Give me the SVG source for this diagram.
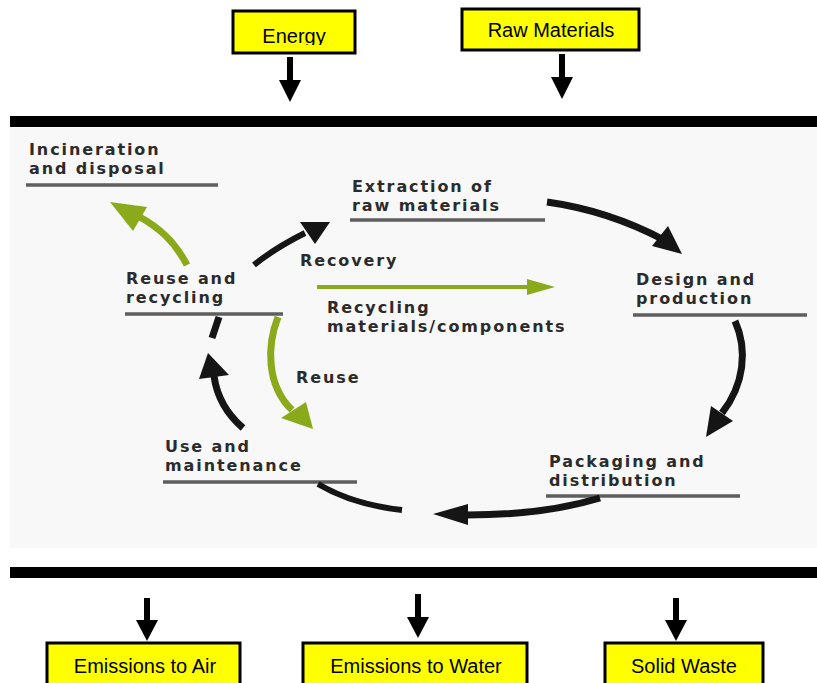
<svg xmlns="http://www.w3.org/2000/svg" width="817" height="683" viewBox="0 0 817 683">
<style>
.box{fill:#ffff00;stroke:#000;stroke-width:3}
.bt{font-family:"Liberation Sans",Arial,sans-serif;font-size:20px;fill:#000;text-anchor:middle}
.lb{font-family:"DejaVu Sans","Liberation Sans",sans-serif;font-weight:bold;font-size:16px;fill:#2b2b2b;letter-spacing:1.9px}
.ul{stroke:#5e5e5e;stroke-width:3.5}
.bk{fill:none;stroke:#151515;stroke-width:7;stroke-linecap:butt}
.gr{fill:none;stroke:#8aaa1c;stroke-width:7;stroke-linecap:butt}
.hk{fill:#151515}
.hg{fill:#8aaa1c}
.ar{fill:#000}
</style>
<defs>
<clipPath id="clipE"><rect x="232" y="10" width="124" height="35"/></clipPath>
</defs>
<rect x="0" y="0" width="817" height="683" fill="#fff"/>
<rect x="10" y="128" width="807" height="420" fill="#f8f8f8"/>
<rect x="10" y="116" width="807" height="11" fill="#000"/>
<rect x="10" y="567" width="807" height="11" fill="#000"/>

<g id="energy">
<rect class="box" x="233" y="11" width="122" height="42"/>
<text class="bt" x="294" y="43" clip-path="url(#clipE)">Energy</text>
</g>
<g id="raw-materials">
<rect class="box" x="462" y="9" width="177" height="41"/>
<text class="bt" x="551" y="37">Raw Materials</text>
</g>
<g id="emissions-air">
<rect class="box" x="47" y="643" width="193" height="45"/>
<text class="bt" x="145" y="673">Emissions to Air</text>
</g>
<g id="emissions-water">
<rect class="box" x="303" y="643" width="224" height="45"/>
<text class="bt" x="416" y="673">Emissions to Water</text>
</g>
<g id="solid-waste">
<rect class="box" x="605" y="643" width="158" height="45"/>
<text class="bt" x="684" y="673">Solid Waste</text>
</g>

<g id="incineration">
<text class="lb" x="29" y="155">Incineration</text>
<text class="lb" x="29" y="174">and disposal</text>
<line class="ul" x1="26" y1="185" x2="218" y2="185"/>
</g>
<g id="extraction">
<text class="lb" x="352" y="192">Extraction of</text>
<text class="lb" x="352" y="211">raw materials</text>
<line class="ul" x1="350" y1="220" x2="545" y2="220"/>
</g>
<g id="design">
<text class="lb" x="636" y="285">Design and</text>
<text class="lb" x="636" y="304">production</text>
<line class="ul" x1="633" y1="315" x2="807" y2="315"/>
</g>
<g id="packaging">
<text class="lb" x="549" y="467">Packaging and</text>
<text class="lb" x="549" y="486">distribution</text>
<line class="ul" x1="546" y1="496" x2="740" y2="496"/>
</g>
<g id="use">
<text class="lb" x="165" y="452">Use and</text>
<text class="lb" x="165" y="471">maintenance</text>
<line class="ul" x1="163" y1="482" x2="357" y2="482"/>
</g>
<g id="reuse-recycling">
<text class="lb" x="126" y="284">Reuse and</text>
<text class="lb" x="126" y="303">recycling</text>
<line class="ul" x1="125" y1="314" x2="283" y2="314"/>
</g>

<g id="connectors">
<rect class="ar" x="287" y="57" width="6" height="24"/><polygon class="ar" points="279,80 301,80 290,102"/>
<rect class="ar" x="559" y="54" width="6" height="24"/><polygon class="ar" points="551,77 573,77 562,99"/>
<rect class="ar" x="144" y="598" width="6" height="23"/><polygon class="ar" points="136,620 158,620 147,641"/>
<rect class="ar" x="415" y="594" width="6" height="23"/><polygon class="ar" points="407,617 429,617 418,638"/>
<rect class="ar" x="673" y="598" width="6" height="23"/><polygon class="ar" points="665,620 687,620 676,641"/>

<path class="gr" d="M187,265 C175,242 160,228 138,216"/>
<polygon class="hg" points="110,202 147,207 133,231"/>
<path class="bk" d="M254,265 C270,252 285,243 305,233" style="stroke-width:6"/>
<polygon class="hk" points="330,222 300,222 315,244"/>
<path class="bk" d="M547,202 C590,208 630,222 664,240"/>
<polygon class="hk" points="682,254 652,246 668,226"/>
<path class="bk" d="M735,321 C748,350 744,385 722,413"/>
<polygon class="hk" points="706,437 733,421 711,406"/>
<path class="bk" d="M600,498 C560,510 510,515 467,515"/>
<polygon class="hk" points="433,514 468,504 468,525"/>
<path class="bk" d="M318,484 C345,500 375,507 402,510" style="stroke-width:6"/>
<path class="bk" d="M243,428 C228,415 217,398 214,376"/>
<polygon class="hk" points="208,353 199,379 229,375"/>
<path class="bk" d="M219,317 L212,338"/>
<path class="gr" d="M278,317 C267,345 266,385 292,410"/>
<polygon class="hg" points="313,429 281,418 306,402"/>
<line x1="317" y1="287" x2="530" y2="287" stroke="#8aaa1c" stroke-width="4"/>
<polygon class="hg" points="555,287 527,279 527,295"/>
</g>
<g id="labels">
<text class="lb" x="300" y="266">Recovery</text>
<text class="lb" x="327" y="313">Recycling</text>
<text class="lb" x="327" y="332">materials/components</text>
<text class="lb" x="296" y="383">Reuse</text>
</g>
</svg>
